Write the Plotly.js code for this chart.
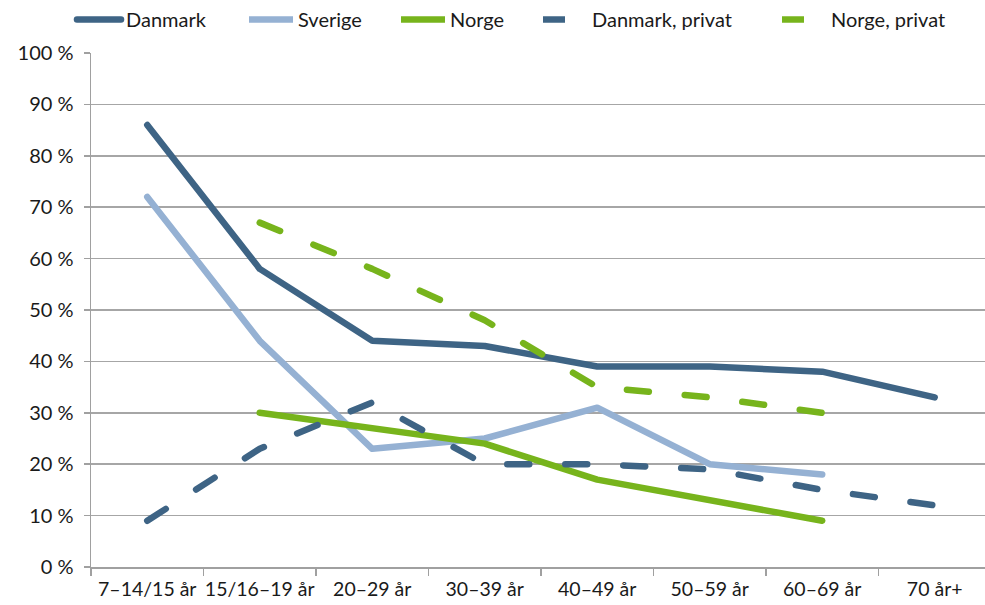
<!DOCTYPE html>
<html>
<head>
<meta charset="utf-8">
<script src="https://cdn.plot.ly/plotly-3.0.1.min.js"></script>
<style>
html,body{margin:0;padding:0;background:#fff;}
#chart{width:985px;height:605px;}
.scatterlayer path.js-line{stroke-linecap:round !important;stroke-linejoin:round !important;}
.legend path.js-line{stroke-linecap:round !important;}
</style>
</head>
<body>
<div id="chart"></div>
<script>
const categories = ["7–14/15 år","15/16–19 år","20–29 år","30–39 år","40–49 år","50–59 år","60–69 år","70 år+"];
const danmark = [86, 58, 44, 43, 39, 39, 38, 33];
const sverige = [72, 44, 23, 25, 31, 20, 18, null];
const norge = [null, 30, 27, 24, 17, 13, 9, null];
const danmarkPrivat = [9, 23, 32, 20, 20, 19, 15, 12];
const norgePrivat = [null, 67, 58, 48, 35, 33, 30, null];
const yTickVals = [0,10,20,30,40,50,60,70,80,90,100];
const yTickText = ["0 %","10 %","20 %","30 %","40 %","50 %","60 %","70 %","80 %","90 %","100 %"];

const cDk = "#3e6485", cSe = "#95b1d3", cNo = "#77b41c";
const dash = "22px,36px";
const legendNames = ["legend","legend2","legend3","legend4","legend5"];
const legendX = [72, 244, 396, 538, 777];
function tr(name, y, color, d, i){
  return {x: categories, y: y, name: name, type: "scatter", mode: "lines",
    line: {color: color, width: 6.5, dash: d || "solid"}, connectgaps: false,
    hoverinfo: "skip", legend: legendNames[i]};
}
const data = [
  tr("Danmark", danmark, cDk, null, 0),
  tr("Sverige", sverige, cSe, null, 1),
  tr("Norge", norge, cNo, null, 2),
  tr("Danmark, privat", danmarkPrivat, cDk, dash, 3),
  tr("Norge, privat", norgePrivat, cNo, dash, 4)
];
const font = {family: "Lato, 'Noto Sans', sans-serif", size: 20, color: "#1a1a1a"};
const xfont = {family: "Lato, 'Noto Sans', sans-serif", size: 19.5, color: "#1a1a1a"};
const layout = {
  width: 985, height: 605,
  margin: {l: 91, r: 0, t: 53, b: 38},
  paper_bgcolor: "#fff", plot_bgcolor: "#fff",
  font: font,
  showlegend: true,
  xaxis: {type: "category", range: [-0.5, 7.447], showgrid: false, zeroline: false,
    showline: true, linecolor: "#a0a0a0", linewidth: 1.5, tickangle: 0,
    ticks: "outside", tickson: "boundaries", ticklen: 7, tickcolor: "#a0a0a0", tickwidth: 1.5,
    ticklabelstandoff: 4, tickfont: xfont, fixedrange: true},
  yaxis: {range: [0, 100], tickvals: yTickVals, ticktext: yTickText, showgrid: true,
    gridcolor: "#a6a6a6", gridwidth: 1.5, zeroline: false,
    showline: true, linecolor: "#a0a0a0", linewidth: 1.5,
    ticks: "outside", ticklen: 6, tickcolor: "#a0a0a0", tickwidth: 1.5,
    ticklabelstandoff: 6, tickfont: font, fixedrange: true}
};
legendNames.forEach(function(ln, i){
  layout[ln] = {orientation: "h", x: legendX[i] / 985, xanchor: "left", y: 1.0, yanchor: "top",
    yref: "container", xref: "container", font: font, itemwidth: 44,
    bgcolor: "rgba(0,0,0,0)"};
});
Plotly.newPlot("chart", data, layout, {displayModeBar: false, staticPlot: true});
</script>
</body>
</html>
